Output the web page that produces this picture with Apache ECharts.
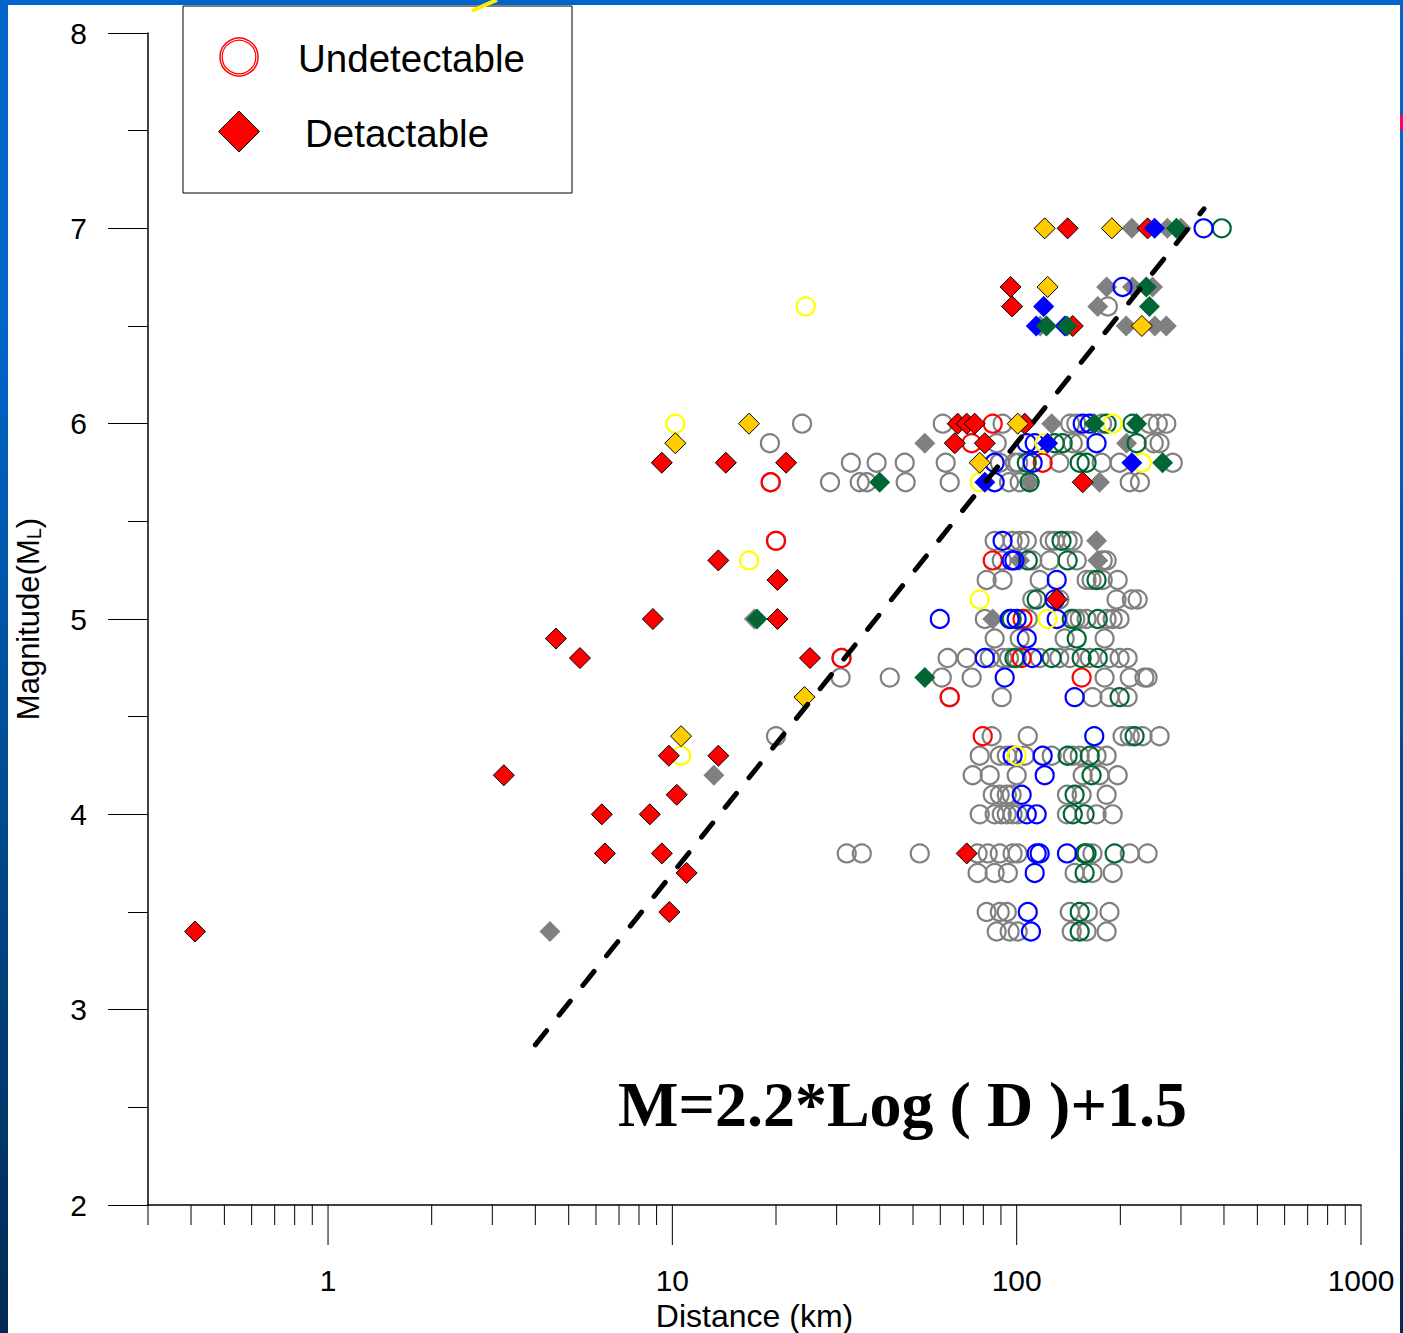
<!DOCTYPE html>
<html>
<head>
<meta charset="utf-8">
<title>Magnitude vs Distance</title>
<script src="https://cdn.jsdelivr.net/npm/echarts@6/dist/echarts.min.js"></script>
<style>
  html, body { margin: 0; padding: 0; }
  body {
    width: 1403px; height: 1333px; overflow: hidden; position: relative;
    background: linear-gradient(to bottom, #0066cc 0%, #0064c8 25%, #004b90 60%, #002a52 100%);
  }
  #paper { position: absolute; left: 8px; top: 5px; width: 1392px; height: 1328px; background: #fff; }
  #mark { position: absolute; left: 1400px; top: 115px; width: 3px; height: 15px; background: #ff0066; }
  #chart { position: absolute; left: 0; top: 0; width: 1403px; height: 1333px; }
</style>
</head>
<body>
<div id="paper"></div>
<div id="mark"></div>
<div id="chart"></div>
<script>
// axis ticks (km)
var xLabels = [1, 10, 100, 1000];
var xMinorTicks = [0.3, 0.4, 0.5, 0.6, 0.7, 0.8, 0.9,
  2, 3, 4, 5, 6, 7, 8, 9,
  20, 30, 40, 50, 60, 70, 80, 90,
  200, 300, 400, 500, 600, 700, 800, 900];

// [distance km, magnitude ML]
// undetectable (open circles)
var grayCircles = [
  [184, 6.6],
  [23.8, 6.0], [61, 6.0], [91, 6.0], [143, 6.0], [149, 6.0], [177, 6.0], [243, 6.0], [257, 6.0], [272, 6.0],
  [19.2, 5.9], [87.5, 5.9], [145.5, 5.9], [152, 5.9], [250, 5.9], [260, 5.9],
  [33, 5.8], [39.2, 5.8], [47.3, 5.8], [62.2, 5.8], [89.3, 5.8], [98.7, 5.8], [101, 5.8], [133, 5.8], [176.5, 5.8], [199, 5.8], [284, 5.8],
  [19.3, 5.7], [28.7, 5.7], [35, 5.7], [36.7, 5.7], [47.6, 5.7], [63.9, 5.7], [95, 5.7], [102, 5.7], [213, 5.7], [228, 5.7],
  [20, 5.4], [86.3, 5.4], [97.3, 5.4], [102, 5.4], [107, 5.4], [124.7, 5.4], [129, 5.4], [140.6, 5.4], [145.5, 5.4],
  [90.5, 5.3], [111, 5.3], [124.7, 5.3], [149.4, 5.3], [177.8, 5.3], [182.5, 5.3],
  [81.8, 5.2], [91, 5.2], [116.6, 5.2], [159.6, 5.2], [165, 5.2], [177.8, 5.2], [196.5, 5.2],
  [111, 5.1], [133, 5.1], [195, 5.1], [216, 5.1], [224.6, 5.1],
  [80.8, 5.0], [107.7, 5.0], [148, 5.0], [152.4, 5.0], [159.6, 5.0], [182.5, 5.0], [190, 5.0], [199, 5.0],
  [86.3, 4.9], [102, 4.9], [137.8, 4.9], [180, 4.9],
  [31, 4.8], [63, 4.8], [71.6, 4.8], [83.5, 4.8], [91, 4.8], [95, 4.8], [100, 4.8], [116.6, 4.8], [133, 4.8], [142.6, 4.8], [163, 4.8], [186, 4.8], [199, 4.8], [210, 4.8],
  [30.8, 4.7], [42.8, 4.7], [60.6, 4.7], [74, 4.7], [180, 4.7], [213, 4.7], [235, 4.7], [240, 4.7],
  [63.9, 4.6], [90.5, 4.6], [166, 4.6], [186, 4.6], [210, 4.6],
  [20, 4.4], [84.6, 4.4], [107.7, 4.4], [203, 4.4], [213, 4.4], [232, 4.4], [260, 4.4],
  [78.1, 4.3], [89.3, 4.3], [93.6, 4.3], [105.5, 4.3], [126.4, 4.3], [145.5, 4.3], [152.4, 4.3], [170.6, 4.3], [182.5, 4.3],
  [74.5, 4.2], [83.5, 4.2], [100, 4.2], [155.5, 4.2], [174, 4.2], [196.5, 4.2],
  [85.2, 4.1], [89.3, 4.1], [93.6, 4.1], [96.7, 4.1], [140, 4.1], [154.4, 4.1], [182.5, 4.1],
  [78.1, 4.0], [86.3, 4.0], [90.5, 4.0], [93.6, 4.0], [97.3, 4.0], [100.7, 4.0], [140, 4.0], [170.6, 4.0], [190, 4.0],
  [32.1, 3.8], [35.5, 3.8], [52.3, 3.8], [77, 3.8], [82.4, 3.8], [89.3, 3.8], [97.3, 3.8], [100.7, 3.8], [166, 3.8], [213, 3.8], [240, 3.8],
  [77, 3.7], [86.3, 3.7], [94.3, 3.7], [147.3, 3.7], [166, 3.7], [190, 3.7],
  [81.8, 3.5], [89.3, 3.5], [93.6, 3.5], [142.6, 3.5], [161, 3.5], [186, 3.5],
  [87.5, 3.4], [95.4, 3.4], [100.7, 3.4], [144.5, 3.4], [159.6, 3.4], [182.5, 3.4]
];
var redCircles = [
  [85.2, 6.0], [74, 5.9], [119, 5.8], [19.3, 5.7], [20, 5.4], [85.2, 5.3], [104, 5.0],
  [31, 4.8], [103.4, 4.8], [154.4, 4.7], [63.9, 4.6], [79.7, 4.4]
];
var blueCircles = [
  [349, 7.0], [203, 6.7], [155.5, 6.0], [163, 6.0], [107, 5.9], [112.8, 5.9], [170.6, 5.9],
  [86.3, 5.8], [111.3, 5.8], [86.3, 5.7], [91, 5.4], [96.7, 5.3], [98.5, 5.3], [130.7, 5.2],
  [129, 5.1], [59.8, 5.0], [95.4, 5.0], [100, 5.0], [130.7, 5.0], [107, 4.9], [80.8, 4.8],
  [111, 4.8], [92.3, 4.7], [147.3, 4.6], [168, 4.4], [97.3, 4.3], [119, 4.3], [120.6, 4.2],
  [103.4, 4.1], [107, 4.0], [114.3, 4.0], [114.3, 3.8], [116.6, 3.8], [140, 3.8], [112.8, 3.7],
  [107.7, 3.5], [110, 3.4]
];
var greenCircles = [
  [394, 7.0], [182.5, 6.0], [217, 6.0], [129, 5.9], [136, 5.9], [223, 5.9], [107, 5.8],
  [152.4, 5.8], [159.6, 5.8], [109, 5.7], [135, 5.4], [107.7, 5.3], [140.6, 5.3], [170.6, 5.2],
  [114.3, 5.1], [96.7, 5.0], [144.5, 5.0], [172, 5.0], [149.4, 4.9], [98.5, 4.8], [126.4, 4.8],
  [154.4, 4.8], [172, 4.8], [199, 4.6], [220, 4.4], [140.6, 4.3], [163, 4.3], [165, 4.2],
  [147.3, 4.1], [145.5, 4.0], [157.5, 4.0], [157.5, 3.8], [159.6, 3.8], [192.5, 3.8],
  [157.5, 3.7], [152.4, 3.5], [152.4, 3.4]
];
var yellowCircles = [
  [24.4, 6.6], [10.2, 6.0], [190, 6.0], [120.6, 5.9], [230.7, 5.8], [78.1, 5.7], [16.7, 5.3],
  [78.1, 5.1], [123, 5.0], [10.6, 4.3], [100, 4.3]
];
// detactable (diamonds)
var grayDiamonds = [
  [216, 7.0], [274, 7.0], [300, 7.0], [182.5, 6.7], [217, 6.7], [248, 6.7], [119.8, 6.6], [172, 6.6],
  [117, 6.5], [208, 6.5], [252, 6.5], [272, 6.5], [126.4, 6.0], [54.1, 5.9], [208.5, 5.9],
  [109, 5.7], [174, 5.7], [170.6, 5.4], [172, 5.3], [102, 5.3], [85.2, 5.0], [17.3, 5.0],
  [13.2, 4.2], [4.41, 3.4]
];
var redDiamonds = [
  [140.6, 7.0], [240, 7.0], [96, 6.7], [97, 6.6], [145.5, 6.5], [67.4, 6.0], [71.6, 6.0],
  [75.5, 6.0], [105.5, 6.0], [66.1, 5.9], [80.8, 5.9], [9.32, 5.8], [14.3, 5.8], [21.4, 5.8],
  [155.5, 5.7], [13.6, 5.3], [20.2, 5.2], [130.7, 5.1], [8.78, 5.0], [20.2, 5.0], [4.59, 4.9],
  [5.39, 4.8], [25.1, 4.8], [9.77, 4.3], [13.6, 4.3], [3.24, 4.2], [10.3, 4.1], [6.24, 4.0],
  [8.6, 4.0], [6.37, 3.8], [9.32, 3.8], [71.6, 3.8], [11, 3.7], [9.8, 3.5], [0.411, 3.4]
];
var goldDiamonds = [
  [120.6, 7.0], [189, 7.0], [123, 6.7], [231, 6.5], [16.7, 6.0], [100.7, 6.0], [10.2, 5.9],
  [78.1, 5.8], [24.2, 4.6], [10.6, 4.4]
];
var blueDiamonds = [
  [251.6, 7.0], [119.8, 6.6], [114, 6.5], [138, 6.5], [123, 5.9], [216, 5.8], [80.8, 5.7]
];
var greenDiamonds = [
  [291, 7.0], [238, 6.7], [243, 6.6], [122, 6.5], [140, 6.5], [168, 6.0], [223, 6.0],
  [265.4, 5.8], [40, 5.7], [17.6, 5.0], [54.1, 4.7]
];
// M = 2.2*Log(D) + 1.5, end points
var fitLine = [[4, 2.82], [350, 7.1]];

var FONT = 'Liberation Sans';
var Y_MIN = 2;

function circles(data, color) {
  return {
    type: 'scatter', data: data, symbol: 'circle', symbolSize: 18, silent: true,
    itemStyle: { color: 'rgba(0,0,0,0)', borderColor: color, borderWidth: 2.2, opacity: 1 }
  };
}
function diamonds(data, color, edge) {
  return {
    type: 'scatter', data: data, symbol: 'diamond', symbolSize: 21, silent: true,
    itemStyle: { color: color, borderColor: edge || color, borderWidth: edge ? 1 : 0, opacity: 1 }
  };
}
// log axis ticks drawn at the real positions (2..9 between decades)
function ticks(values, len) {
  return {
    type: 'custom', silent: true, clip: false,
    data: values.map(function (v) { return [v, Y_MIN]; }),
    renderItem: function (params, api) {
      var p = api.coord([api.value(0), api.value(1)]);
      return {
        type: 'line',
        shape: { x1: p[0], y1: p[1], x2: p[0], y2: p[1] + len },
        style: { stroke: '#000', lineWidth: 1 }
      };
    }
  };
}

var chart = echarts.init(document.getElementById('chart'), null, { renderer: 'svg' });
var option = {
  animation: false,
  backgroundColor: 'transparent',
  grid: { left: 148, right: 42, top: 33, bottom: 128, containLabel: false, outerBoundsMode: 'none' },
  xAxis: {
    type: 'log', logBase: 10, min: 0.3, max: 1000,
    name: 'Distance (km)', nameLocation: 'middle', nameGap: 90,
    nameTextStyle: { fontSize: 32, fontFamily: FONT, color: '#000' },
    axisLine: { onZero: false, lineStyle: { color: '#000', width: 1.5 } },
    axisTick: { show: false },
    splitLine: { show: false },
    axisLabel: {
      margin: 60, fontSize: 30, fontFamily: FONT, color: '#000',
      formatter: function (v) {
        var r = Math.round(v * 1000) / 1000;
        return xLabels.indexOf(r) >= 0 ? String(r) : '';
      }
    }
  },
  yAxis: {
    type: 'value', min: 2, max: 8, interval: 1,
    name: 'Magnitude(M{sub|L})', nameLocation: 'middle', nameGap: 104,
    nameTextStyle: {
      fontSize: 31, fontFamily: FONT, color: '#000',
      rich: { sub: { fontSize: 20, fontFamily: FONT, color: '#000', padding: [12, 0, 0, 0] } }
    },
    axisLine: { show: true, onZero: false, lineStyle: { color: '#000', width: 1.5 } },
    axisTick: { show: true, length: 40, lineStyle: { color: '#000', width: 1 } },
    minorTick: { show: true, splitNumber: 2, length: 20, lineStyle: { color: '#000', width: 1 } },
    splitLine: { show: false },
    minorSplitLine: { show: false },
    axisLabel: { margin: 61, fontSize: 30, fontFamily: FONT, color: '#000' }
  },
  series: [
    ticks(xMinorTicks, 20),
    ticks(xLabels, 40),
    circles(grayCircles, '#808080'),
    diamonds(grayDiamonds, '#808080'),
    circles(redCircles, '#ff0000'),
    circles(greenCircles, '#006633'),
    circles(blueCircles, '#0000ff'),
    circles(yellowCircles, '#ffff00'),
    diamonds(redDiamonds, '#ff0000', '#000'),
    diamonds(goldDiamonds, '#ffcc00', '#000'),
    diamonds(blueDiamonds, '#0000ff'),
    diamonds(greenDiamonds, '#006633'),
    {
      type: 'line', data: fitLine, symbol: 'none', silent: true, z: 5,
      lineStyle: { color: '#000', width: 5, type: [18, 20], cap: 'round' }
    }
  ],
  graphic: [
    { type: 'rect', silent: true, shape: { x: 183, y: 6, width: 389, height: 187 },
      style: { fill: '#fff', stroke: '#000', lineWidth: 1 } },
    { type: 'circle', silent: true, shape: { cx: 239, cy: 57, r: 19 },
      style: { fill: 'none', stroke: '#ff0000', lineWidth: 1.5 } },
    { type: 'circle', silent: true, shape: { cx: 239, cy: 57, r: 16.8 },
      style: { fill: 'none', stroke: '#ff0000', lineWidth: 1.2 } },
    { type: 'polygon', silent: true,
      shape: { points: [[239, 111], [259.5, 131.5], [239, 152], [218.5, 131.5]] },
      style: { fill: '#ff0000', stroke: '#000', lineWidth: 1 } },
    { type: 'text', silent: true, x: 298, y: 58,
      style: { text: 'Undetectable', fontSize: 38.5, fontFamily: FONT, fill: '#000', align: 'left', verticalAlign: 'middle' } },
    { type: 'text', silent: true, x: 305, y: 133,
      style: { text: 'Detactable', fontSize: 38.5, fontFamily: FONT, fill: '#000', align: 'left', verticalAlign: 'middle' } },
    { type: 'text', silent: true, x: 618, y: 1104,
      style: { text: 'M=2.2*Log ( D )+1.5', fontSize: 64, fontWeight: 'bold', fontFamily: 'Liberation Serif',
        fill: '#000', align: 'left', verticalAlign: 'middle' } },
    { type: 'polyline', silent: true, shape: { points: [[472, 11], [485, 5], [497, 0]] },
      style: { stroke: '#ffee00', lineWidth: 4 } }
  ]
};
chart.setOption(option);
</script>
</body>
</html>
